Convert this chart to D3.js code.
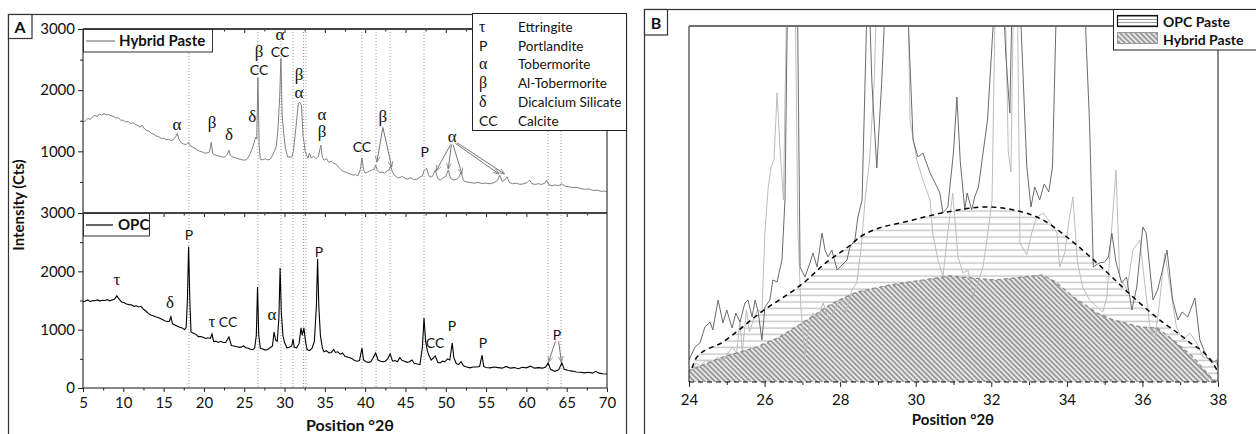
<!DOCTYPE html>
<html>
<head>
<meta charset="utf-8">
<script src="https://cdn.jsdelivr.net/npm/d3@7"></script>
<style>
body{margin:0;background:#fff;}
text{font-family:Lato,"Open Sans",sans-serif;fill:#111;}
</style>
</head>
<body>
<div id="chart"></div>
<script>

// panel A spectra, [°2θ, counts]
const hybridA=[[5.0,1475],[5.3,1500],[5.6,1540],[5.9,1520],[6.2,1570],[6.5,1590],[6.8,1570],[7.0,1610],[7.3,1590],[7.6,1620],[7.9,1595],[8.2,1600],[8.5,1580],[8.8,1570],[9.1,1545],[9.4,1550],[9.7,1505],[10.0,1510],[10.3,1480],[10.6,1490],[10.9,1450],[11.2,1470],[11.5,1440],[11.8,1420],[12.1,1395],[12.3,1430],[12.6,1370],[12.9,1340],[13.2,1330],[13.5,1290],[13.8,1280],[14.1,1250],[14.4,1240],[14.7,1210],[15.0,1215],[15.3,1190],[15.6,1200],[15.9,1175],[16.2,1190],[16.5,1240],[16.7,1295],[16.9,1200],[17.2,1140],[17.5,1120],[17.8,1110],[18.1,1150],[18.3,1090],[18.6,1070],[18.9,1050],[19.2,1020],[19.5,1000],[19.8,990],[20.1,970],[20.4,975],[20.7,990],[20.9,1150],[21.1,960],[21.4,940],[21.7,930],[22.0,920],[22.3,905],[22.6,910],[22.9,950],[23.1,1020],[23.3,930],[23.6,905],[23.9,895],[24.2,880],[24.5,870],[24.8,860],[25.1,855],[25.4,880],[25.7,950],[26.0,1050],[26.2,1130],[26.4,1230],[26.55,1200],[26.7,2200],[26.85,1100],[27.0,870],[27.3,860],[27.6,880],[27.9,860],[28.2,870],[28.5,930],[28.8,1020],[29.0,1100],[29.2,1395],[29.4,1900],[29.55,2520],[29.7,1600],[29.9,1295],[30.1,1050],[30.4,905],[30.7,910],[30.9,905],[31.1,1000],[31.3,1250],[31.5,1500],[31.7,1785],[31.9,1800],[32.1,1750],[32.2,1500],[32.3,1240],[32.45,1130],[32.55,1000],[32.7,950],[32.9,890],[33.1,970],[33.3,890],[33.6,920],[33.9,880],[34.2,920],[34.5,1100],[34.7,900],[34.9,855],[35.2,880],[35.5,820],[35.8,840],[36.1,805],[36.4,790],[36.7,740],[37.0,700],[37.3,670],[37.6,660],[37.9,640],[38.2,630],[38.5,610],[38.8,620],[39.1,600],[39.4,700],[39.6,890],[39.8,700],[40.0,645],[40.3,660],[40.6,680],[40.9,700],[41.1,700],[41.3,775],[41.5,700],[41.8,650],[42.1,660],[42.4,645],[42.7,680],[43.0,700],[43.15,760],[43.4,660],[43.7,600],[44.0,570],[44.3,570],[44.6,590],[44.9,560],[45.3,545],[45.6,570],[46.0,540],[46.4,545],[46.8,580],[47.1,600],[47.3,680],[47.6,725],[47.9,600],[48.2,580],[48.4,600],[48.7,695],[49.0,560],[49.3,530],[49.6,560],[50.0,590],[50.3,695],[50.6,560],[51.0,530],[51.3,540],[51.6,570],[51.9,660],[52.2,520],[52.6,500],[53.0,490],[53.5,480],[54.0,490],[54.5,475],[55.0,480],[55.5,470],[56.0,490],[56.4,520],[56.7,610],[57.0,510],[57.3,530],[57.6,580],[57.9,490],[58.3,470],[58.7,480],[59.2,460],[59.7,470],[60.1,490],[60.4,530],[60.7,470],[61.1,460],[61.5,470],[61.9,460],[62.3,480],[62.5,530],[62.8,450],[63.2,440],[63.6,450],[64.0,440],[64.4,470],[64.8,430],[65.3,420],[65.8,405],[66.3,410],[66.8,390],[67.3,380],[67.8,385],[68.3,360],[68.8,365],[69.3,345],[69.7,350],[70.0,335]];

const opcA=[[5.0,1475],[5.3,1490],[5.6,1510],[5.9,1480],[6.2,1500],[6.5,1495],[6.8,1510],[7.1,1490],[7.4,1505],[7.7,1500],[8.0,1515],[8.3,1495],[8.6,1510],[8.9,1520],[9.2,1580],[9.5,1520],[9.8,1475],[10.1,1460],[10.4,1440],[10.7,1430],[11.0,1425],[11.3,1400],[11.6,1410],[11.9,1390],[12.2,1400],[12.5,1350],[12.8,1320],[13.1,1280],[13.4,1250],[13.7,1240],[14.0,1220],[14.3,1210],[14.6,1190],[14.9,1170],[15.2,1150],[15.5,1140],[15.7,1140],[15.9,1220],[16.1,1100],[16.4,1080],[16.7,1060],[17.0,1040],[17.3,1030],[17.6,1000],[17.8,1040],[17.95,1500],[18.1,2420],[18.25,1500],[18.4,960],[18.7,940],[19.0,920],[19.3,880],[19.6,880],[19.9,870],[20.2,850],[20.5,860],[20.8,850],[21.0,925],[21.2,800],[21.5,800],[21.8,780],[22.1,800],[22.4,780],[22.7,780],[23.1,875],[23.4,730],[23.7,720],[24.0,710],[24.3,700],[24.6,700],[24.9,720],[25.2,690],[25.5,680],[25.8,660],[26.1,660],[26.3,690],[26.5,900],[26.65,1730],[26.8,900],[27.0,680],[27.3,670],[27.6,650],[27.9,660],[28.2,690],[28.5,720],[28.7,960],[28.9,820],[29.1,800],[29.3,1200],[29.45,2055],[29.6,1300],[29.8,900],[30.0,780],[30.3,690],[30.6,700],[30.9,720],[31.05,840],[31.2,700],[31.5,690],[31.8,760],[32.05,1030],[32.2,900],[32.4,1030],[32.6,800],[32.8,660],[33.1,640],[33.4,680],[33.7,800],[33.95,1400],[34.1,2210],[34.25,1400],[34.45,900],[34.7,680],[34.9,620],[35.2,640],[35.5,600],[35.8,610],[36.1,660],[36.3,610],[36.6,620],[36.9,580],[37.2,600],[37.5,540],[37.8,530],[38.1,520],[38.4,500],[38.7,470],[39.0,460],[39.3,470],[39.6,685],[39.8,480],[40.1,450],[40.4,440],[40.7,450],[41.0,520],[41.3,600],[41.6,480],[41.9,460],[42.2,450],[42.5,460],[42.8,500],[43.1,585],[43.4,460],[43.7,470],[44.0,450],[44.3,520],[44.6,470],[44.9,460],[45.2,440],[45.5,450],[45.8,480],[46.1,420],[46.5,410],[46.8,400],[47.1,700],[47.3,1200],[47.5,800],[47.7,650],[47.9,560],[48.2,480],[48.5,520],[48.7,550],[49.0,440],[49.3,430],[49.6,460],[49.9,450],[50.2,500],[50.5,480],[50.8,770],[51.0,520],[51.3,420],[51.6,400],[51.9,450],[52.2,380],[52.6,360],[53.0,345],[53.4,360],[53.8,360],[54.2,370],[54.5,565],[54.7,370],[55.0,350],[55.5,345],[56.0,360],[56.5,350],[57.0,340],[57.5,370],[58.0,340],[58.5,350],[59.0,330],[59.5,355],[60.0,345],[60.5,375],[61.0,340],[61.5,350],[62.0,340],[62.4,360],[62.7,430],[63.0,320],[63.5,285],[64.0,310],[64.4,430],[64.7,320],[65.2,300],[65.7,290],[66.2,275],[66.7,270],[67.2,260],[67.7,270],[68.2,255],[68.6,285],[69.0,255],[69.5,245],[70.0,240]];

const peakLines=[18.15,26.7,29.56,31.05,32.35,32.65,39.6,41.35,43.1,47.3,62.7,64.3];

// [text, °2θ, counts]
const hybridLabels=[["α",16.66,1430],["β",21.0,1463],["δ",23.1,1267],["δ",26.0,1561],["β",26.84,2630],["CC",26.84,2330],["α",29.44,2900],["CC",29.44,2624],["β",31.8,2250],["α",31.8,1950],["α",34.65,1590],["β",34.65,1320],["CC",39.6,1071],["β",42.2,1561],["P",47.4,989],["α",50.8,1234]];
const opcLabels=[["τ",9.22,1851],["δ",15.8,1457],["P",18.15,2623],["τ",21.0,1131],["CC",23.0,1131],["α",28.45,1251],["P",34.28,2331],["CC",48.67,771],["P",50.78,1063],["P",54.6,771],["P",63.8,909]];
// [x1, y1, x2, y2]
const hybridArrows=[[42.2,1390,41.45,820],[42.2,1390,43.3,740],[50.6,1110,48.8,680],[50.7,1110,50.3,710],[50.9,1110,52.0,630],[51.2,1130,56.6,630],[51.4,1140,57.3,630]];
const opcArrows=[[63.6,800,62.75,440],[64.0,800,64.35,440]];

const phaseSymbols=["τ","P","α","β","δ","CC"];
const phaseNames=["Ettringite","Portlandite","Tobermorite","Al-Tobermorite","Dicalcium Silicate","Calcite"];

// panel B, [°2θ, counts above baseline]
const opcB=[[24.00,22],[24.16,35],[24.29,39],[24.42,55],[24.56,60],[24.63,52],[24.77,82],[24.90,59],[25.00,72],[25.14,54],[25.24,69],[25.35,60],[25.48,79],[25.56,82],[25.67,65],[25.75,82],[25.83,70],[25.93,42],[26.01,75],[26.14,82],[26.22,102],[26.33,100],[26.46,122],[26.54,182],[26.62,420],[26.72,600],[26.86,420],[26.94,115],[27.07,105],[27.20,119],[27.28,129],[27.39,115],[27.52,149],[27.60,132],[27.68,125],[27.78,132],[27.92,112],[28.05,117],[28.18,122],[28.26,135],[28.39,142],[28.47,165],[28.58,182],[28.74,420],[28.84,300],[28.97,214],[29.10,300],[29.24,420],[29.48,700],[29.74,420],[29.93,242],[30.06,225],[30.19,229],[30.38,209],[30.50,200],[30.64,189],[30.72,169],[30.85,175],[31.00,230],[31.09,285],[31.18,220],[31.30,172],[31.36,189],[31.48,172],[31.56,185],[31.66,195],[31.90,262],[32.15,420],[32.28,420],[32.38,330],[32.49,269],[32.57,420],[32.70,420],[32.80,345],[32.94,215],[33.05,175],[33.15,195],[33.28,182],[33.40,198],[33.52,190],[33.62,215],[33.75,420],[34.20,700],[34.44,420],[34.52,332],[34.60,260],[34.70,115],[34.85,119],[35.00,120],[35.10,125],[35.19,149],[35.30,120],[35.45,99],[35.58,105],[35.72,72],[35.85,95],[36.01,155],[36.10,149],[36.28,82],[36.40,92],[36.52,110],[36.65,132],[36.80,82],[36.94,62],[37.05,70],[37.20,65],[37.39,84],[37.52,42],[37.70,25],[37.84,19],[37.97,22],[38.00,15]];

const hybridB=[[24.00,9],[24.08,12],[24.19,19],[24.30,16],[24.45,22],[24.60,18],[24.75,25],[24.90,21],[25.05,30],[25.16,35],[25.26,29],[25.35,62],[25.41,30],[25.52,72],[25.60,50],[25.70,62],[25.82,72],[25.93,70],[26.01,150],[26.09,192],[26.17,215],[26.25,222],[26.33,289],[26.41,232],[26.50,182],[26.60,420],[26.70,600],[26.80,420],[26.88,155],[26.96,75],[27.07,25],[27.15,49],[27.28,69],[27.40,62],[27.55,79],[27.70,62],[27.85,72],[28.00,82],[28.15,70],[28.31,92],[28.44,99],[28.55,132],[28.66,182],[28.78,222],[28.90,300],[29.00,420],[29.55,700],[29.78,420],[29.85,262],[30.03,222],[30.19,202],[30.38,182],[30.45,149],[30.59,122],[30.72,105],[30.85,150],[30.98,189],[31.12,125],[31.25,109],[31.38,112],[31.51,85],[31.65,99],[31.78,115],[31.91,149],[32.02,182],[32.12,420],[32.35,420],[32.45,230],[32.52,210],[32.60,420],[32.68,420],[32.76,139],[32.94,127],[33.07,149],[33.20,165],[33.37,169],[33.55,160],[33.74,149],[33.81,115],[33.95,130],[34.05,160],[34.16,185],[34.28,120],[34.42,95],[34.60,82],[34.80,75],[34.95,70],[35.06,85],[35.18,150],[35.30,212],[35.40,105],[35.59,92],[35.75,132],[35.93,142],[36.06,99],[36.20,55],[36.33,42],[36.46,82],[36.59,129],[36.72,99],[36.90,55],[37.07,42],[37.25,49],[37.44,39],[37.60,25],[37.84,22],[37.97,19],[38.00,15]];

const opcHump=[[24.08,14],[24.21,25],[24.9,40],[25.88,69],[27.12,102],[27.55,117],[28.34,139],[28.52,145],[29.93,162],[30.83,170],[31.88,175],[32.6,172],[33.37,162],[34.0,145],[34.8,119],[35.75,85],[36.46,62],[37.17,42],[37.97,12],[38.0,8]];
const hybridHump=[[24.0,10],[24.03,12],[24.9,25],[25.79,35],[26.4,45],[27.12,62],[27.81,79],[28.44,90],[29.31,97],[29.66,99],[30.9,106],[31.5,104],[32.1,102],[33.37,107],[33.7,100],[34.17,85],[34.8,69],[35.23,62],[35.94,55],[36.39,54],[36.81,42],[37.34,25],[37.87,2],[38.0,0]];


const svg=d3.select("#chart").append("svg")
    .attr("width", 1256)
    .attr("height", 434);

svg.append("rect").attr("width", 1256).attr("height", 434).attr("fill", "#fff");

const defs=svg.append("defs");

const hl=defs.append("pattern").attr("id", "hlines")
    .attr("patternUnits", "userSpaceOnUse").attr("width", 8).attr("height", 6.5);
hl.append("line").attr("x1", 0).attr("x2", 8).attr("y1", 3).attr("y2", 3)
    .attr("stroke", "#c6c6c6").attr("stroke-width", 1.4);

const hl2=defs.append("pattern").attr("id", "hlines2")
    .attr("patternUnits", "userSpaceOnUse").attr("width", 8).attr("height", 3);
hl2.append("line").attr("x1", 0).attr("x2", 8).attr("y1", 1.5).attr("y2", 1.5)
    .attr("stroke", "#9a9a9a").attr("stroke-width", 1);

const hatch=defs.append("pattern").attr("id", "hatch")
    .attr("patternUnits", "userSpaceOnUse").attr("width", 3.6).attr("height", 3.6)
    .attr("patternTransform", "rotate(-45)");
hatch.append("rect").attr("width", 3.6).attr("height", 3.6).attr("fill", "#e8e8e8");
hatch.append("line").attr("x1", 1.8).attr("x2", 1.8).attr("y1", 0).attr("y2", 3.6)
    .attr("stroke", "#8e8e8e").attr("stroke-width", 1.6);

defs.append("marker").attr("id", "arr")
    .attr("viewBox", "0 0 10 10").attr("refX", 10).attr("refY", 5)
    .attr("markerWidth", 6).attr("markerHeight", 6).attr("orient", "auto")
    .append("path").attr("d", "M0,1L10,5L0,9")
    .attr("fill", "none").attr("stroke", "#777").attr("stroke-width", 1.2);

defs.append("clipPath").attr("id", "clipB")
    .append("rect").attr("x", 689).attr("y", 26).attr("width", 529).attr("height", 356);


// ---------- panel A ----------
const xA=d3.scaleLinear().domain([5, 70]).range([83, 607]);
const yTop=d3.scaleLinear().domain([0, 3000]).range([212.5, 29]);
const yBot=d3.scaleLinear().domain([0, 3000]).range([388, 213]);

svg.append("rect").attr("x", 8.5).attr("y", 14.5).attr("width", 618).attr("height", 440)
    .attr("fill", "none").attr("stroke", "#333").attr("stroke-width", 1.2);
svg.append("rect").attr("x", 8.5).attr("y", 14.5).attr("width", 23.5).attr("height", 24)
    .attr("fill", "#fff").attr("stroke", "#333").attr("stroke-width", 1.2);
svg.append("text").attr("x", 20).attr("y", 32.5).attr("text-anchor", "middle")
    .style("font-size", "16px").style("font-weight", "bold").text("A");

svg.selectAll(".peak-line")
    .data(peakLines)
    .enter().append("line")
    .attr("class", "peak-line")
    .attr("x1", d => xA(d)).attr("x2", d => xA(d))
    .attr("y1", 29).attr("y2", 388)
    .attr("stroke", "#9c9c9c").attr("stroke-width", 1)
    .attr("stroke-dasharray", "1,2");

svg.append("path").datum(hybridA)
    .attr("d", d3.line().x(d => xA(d[0])).y(d => yTop(d[1])))
    .attr("fill", "none").attr("stroke", "#808080").attr("stroke-width", 1);

svg.append("path").datum(opcA)
    .attr("d", d3.line().x(d => xA(d[0])).y(d => yBot(d[1])))
    .attr("fill", "none").attr("stroke", "#000").attr("stroke-width", 1.1);

function styleAxis (g, size) {
    g.select(".domain").remove();
    g.selectAll("text").style("font-size", size).style("font-family", "Lato, sans-serif").attr("fill", "#111");
    g.selectAll("line").attr("stroke", "#222");
}

// y axes
svg.append("g").attr("transform", "translate(83,0)")
    .call(d3.axisLeft(yTop).tickValues([1000, 2000, 3000]).tickSize(5).tickPadding(3).tickFormat(d3.format("d")))
    .call(g => styleAxis(g, "15px"));
svg.append("g").attr("transform", "translate(83,0)")
    .call(d3.axisLeft(yTop).tickValues([500, 1500, 2500]).tickSize(3).tickFormat(""))
    .call(g => styleAxis(g, "15px"));
svg.append("g").attr("transform", "translate(83,0)")
    .call(d3.axisLeft(yBot).tickValues([0, 1000, 2000, 3000]).tickSize(5).tickPadding(3).tickFormat(d3.format("d")))
    .call(g => styleAxis(g, "15px"));
svg.append("g").attr("transform", "translate(83,0)")
    .call(d3.axisLeft(yBot).tickValues([500, 1500, 2500]).tickSize(3).tickFormat(""))
    .call(g => styleAxis(g, "15px"));

// x axes
svg.append("g").attr("transform", "translate(0,388)")
    .call(d3.axisBottom(xA).tickValues(d3.range(5, 71, 5)).tickSize(4).tickPadding(5))
    .call(g => styleAxis(g, "15px"));
svg.append("g").attr("transform", "translate(0,388)")
    .call(d3.axisBottom(xA).tickValues(d3.range(7.5, 70, 5)).tickSize(2.5).tickFormat(""))
    .call(g => styleAxis(g, "15px"));
[29, 213].forEach(y => {
    svg.append("g").attr("transform", `translate(0,${y})`)
        .call(d3.axisBottom(xA).tickValues(d3.range(10, 70, 5)).tickSize(4).tickFormat(""))
        .call(g => styleAxis(g, "15px"));
    svg.append("g").attr("transform", `translate(0,${y})`)
        .call(d3.axisBottom(xA).tickValues(d3.range(7.5, 70, 5)).tickSize(2.5).tickFormat(""))
        .call(g => styleAxis(g, "15px"));
});

// frame
svg.append("line").attr("x1", 83).attr("x2", 83).attr("y1", 29).attr("y2", 388).attr("stroke", "#111");
svg.append("line").attr("x1", 607).attr("x2", 607).attr("y1", 29).attr("y2", 388).attr("stroke", "#111");
svg.append("line").attr("x1", 83).attr("x2", 607).attr("y1", 388).attr("y2", 388).attr("stroke", "#111");
[29, 213].forEach(y => {
    svg.append("line").attr("x1", 83).attr("x2", 607).attr("y1", y).attr("y2", y)
        .attr("stroke", "#444").attr("stroke-width", 2);
});

// annotations
const isGreek=t => /[α-ω]/.test(t);
function drawLabels (labels, yScale) {
    svg.append("g").selectAll("text")
        .data(labels)
        .enter().append("text")
        .attr("x", d => xA(d[1]))
        .attr("y", d => yScale(d[2]))
        .attr("dy", d => isGreek(d[0])? "0.3em":"0.36em")
        .attr("text-anchor", "middle")
        .style("font-family", d => isGreek(d[0])? "'Liberation Serif', 'DejaVu Serif', serif":"Lato, sans-serif")
        .style("font-size", d => isGreek(d[0])? "17px":"14px")
        .text(d => d[0]);
}
function drawArrows (arrows, yScale) {
    svg.append("g").selectAll("line")
        .data(arrows)
        .enter().append("line")
        .attr("x1", d => xA(d[0])).attr("y1", d => yScale(d[1]))
        .attr("x2", d => xA(d[2])).attr("y2", d => yScale(d[3]))
        .attr("stroke", "#777").attr("stroke-width", 1)
        .attr("marker-end", "url(#arr)");
}
drawArrows(hybridArrows, yTop);
drawArrows(opcArrows, yBot);
drawLabels(hybridLabels, yTop);
drawLabels(opcLabels, yBot);

// series legends
svg.append("rect").attr("x", 83.5).attr("y", 29.5).attr("width", 129).attr("height", 22.5)
    .attr("fill", "#fff").attr("stroke", "#333");
svg.append("line").attr("x1", 86).attr("x2", 115).attr("y1", 41).attr("y2", 41).attr("stroke", "#808080").attr("stroke-width", 1.2);
svg.append("text").attr("x", 119).attr("y", 41).attr("dy", "0.36em")
    .style("font-size", "15px").style("font-weight", "bold").text("Hybrid Paste");

svg.append("rect").attr("x", 83.5).attr("y", 213.5).attr("width", 66).attr("height", 22.5)
    .attr("fill", "#fff").attr("stroke", "#333");
svg.append("line").attr("x1", 86).attr("x2", 113).attr("y1", 225).attr("y2", 225).attr("stroke", "#000").attr("stroke-width", 1.2);
svg.append("text").attr("x", 118).attr("y", 225).attr("dy", "0.36em")
    .style("font-size", "15px").style("font-weight", "bold").text("OPC");

// phase legend
svg.append("rect").attr("x", 472.5).attr("y", 13.5).attr("width", 154).attr("height", 117)
    .attr("fill", "#fff").attr("stroke", "#222");
const legRows=svg.append("g").selectAll("g")
    .data(phaseNames)
    .enter().append("g")
    .attr("transform", (d, i) => `translate(0,${27+i*18.8})`);
legRows.append("text").attr("x", 479).attr("dy", (d, i) => isGreek(phaseSymbols[i])? "0.3em":"0.36em")
    .style("font-family", (d, i) => isGreek(phaseSymbols[i])? "'Liberation Serif', serif":"Lato, sans-serif")
    .style("font-size", (d, i) => isGreek(phaseSymbols[i])? "16px":"14px")
    .text((d, i) => phaseSymbols[i]);
legRows.append("text").attr("x", 518).attr("dy", "0.36em")
    .style("font-size", "13.5px").text(d => d);

// titles
svg.append("text").attr("transform", "translate(24,205) rotate(-90)").attr("text-anchor", "middle")
    .style("font-size", "15px").style("font-weight", "bold").text("Intensity (Cts)");
svg.append("text").attr("x", 350).attr("y", 431).attr("text-anchor", "middle")
    .style("font-size", "16px").style("font-weight", "bold").text("Position °2θ");


// ---------- panel B ----------
const xB=d3.scaleLinear().domain([24, 38]).range([689, 1218]);
const yB=d3.scaleLinear().domain([0, 356]).range([382, 26]);

svg.append("rect").attr("x", 644.5).attr("y", 9.5).attr("width", 640).attr("height", 440)
    .attr("fill", "none").attr("stroke", "#333").attr("stroke-width", 1.2);
svg.append("rect").attr("x", 644.5).attr("y", 9.5).attr("width", 23).attr("height", 25.5)
    .attr("fill", "#fff").attr("stroke", "#333").attr("stroke-width", 1.2);
svg.append("text").attr("x", 656).attr("y", 28.5).attr("text-anchor", "middle")
    .style("font-size", "16px").style("font-weight", "bold").text("B");

const plotB=svg.append("g").attr("clip-path", "url(#clipB)");

plotB.append("path").datum(opcHump)
    .attr("d", d3.area().curve(d3.curveMonotoneX).x(d => xB(d[0])).y0(yB(0)).y1(d => yB(d[1])))
    .attr("fill", "url(#hlines)");
plotB.append("path").datum(hybridHump)
    .attr("d", d3.area().x(d => xB(d[0])).y0(yB(0)).y1(d => yB(d[1])))
    .attr("fill", "url(#hatch)");

plotB.append("path").datum(hybridB)
    .attr("d", d3.line().x(d => xB(d[0])).y(d => yB(d[1])))
    .attr("fill", "none").attr("stroke", "#bdbdbd").attr("stroke-width", 1);
plotB.append("path").datum(opcB)
    .attr("d", d3.line().x(d => xB(d[0])).y(d => yB(d[1])))
    .attr("fill", "none").attr("stroke", "#6b6b6b").attr("stroke-width", 1);

plotB.append("path").datum(hybridHump)
    .attr("d", d3.line().x(d => xB(d[0])).y(d => yB(d[1])))
    .attr("fill", "none").attr("stroke", "#8a8a8a").attr("stroke-width", 1.3).attr("stroke-dasharray", "4,3");
plotB.append("path").datum(opcHump)
    .attr("d", d3.line().curve(d3.curveMonotoneX).x(d => xB(d[0])).y(d => yB(d[1])))
    .attr("fill", "none").attr("stroke", "#000").attr("stroke-width", 1.5).attr("stroke-dasharray", "5,4");

svg.append("g").attr("transform", "translate(0,382)")
    .call(d3.axisBottom(xB).tickValues(d3.range(24, 39, 2)).tickSize(5).tickPadding(7))
    .call(g => styleAxis(g, "15px"));
svg.append("g").attr("transform", "translate(0,382)")
    .call(d3.axisBottom(xB).tickValues(d3.range(25, 38, 2)).tickSize(3).tickFormat(""))
    .call(g => styleAxis(g, "15px"));

svg.append("line").attr("x1", 689).attr("x2", 1218).attr("y1", 382).attr("y2", 382)
    .attr("stroke", "#000").attr("stroke-width", 1.2).attr("stroke-dasharray", "5,4");
svg.append("line").attr("x1", 689).attr("x2", 689).attr("y1", 26).attr("y2", 382).attr("stroke", "#111");
svg.append("line").attr("x1", 1218).attr("x2", 1218).attr("y1", 26).attr("y2", 382).attr("stroke", "#111");
svg.append("line").attr("x1", 689).attr("x2", 1218).attr("y1", 26).attr("y2", 26)
    .attr("stroke", "#6e6e6e").attr("stroke-width", 2);

// legend B
svg.append("rect").attr("x", 1113.5).attr("y", 9.5).attr("width", 150).attr("height", 40.5)
    .attr("fill", "#fff").attr("stroke", "#222");
svg.append("rect").attr("x", 1117.5).attr("y", 15.5).attr("width", 40).attr("height", 11)
    .attr("fill", "url(#hlines2)").attr("stroke", "#111").attr("stroke-width", 1.2);
svg.append("rect").attr("x", 1117.5).attr("y", 32.5).attr("width", 40).attr("height", 11)
    .attr("fill", "url(#hatch)").attr("stroke", "#999");
svg.append("text").attr("x", 1163).attr("y", 21.5).attr("dy", "0.36em")
    .style("font-size", "14px").style("font-weight", "bold").text("OPC Paste");
svg.append("text").attr("x", 1163).attr("y", 39.5).attr("dy", "0.36em")
    .style("font-size", "14px").style("font-weight", "bold").text("Hybrid Paste");

svg.append("text").attr("x", 953).attr("y", 425).attr("text-anchor", "middle")
    .style("font-size", "15px").style("font-weight", "bold").text("Position °2θ");

</script>
</body>
</html>
